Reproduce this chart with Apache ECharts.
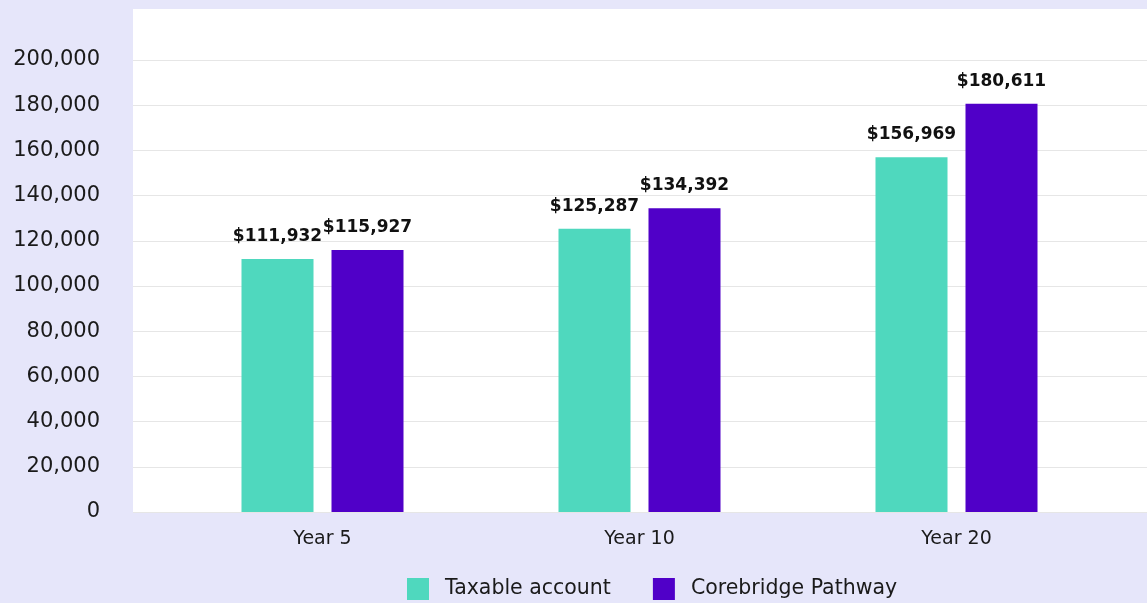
<!DOCTYPE html>
<html>
<head>
<meta charset="utf-8">
<script src="https://cdn.jsdelivr.net/npm/echarts@6/dist/echarts.min.js"></script>
<style>
  html, body { margin: 0; padding: 0; background: #e6e6fa; }
  #chart { width: 1147px; height: 603px; }
</style>
</head>
<body>
<div id="chart"></div>
<script>
// data
const categories = ['Year 5', 'Year 10', 'Year 20'];
const taxable = [111932, 125287, 156969];
const corebridge = [115927, 134392, 180611];
const seriesNames = ['Taxable account', 'Corebridge Pathway'];

const font = '"DejaVu Sans", sans-serif';
const money = p => '$' + p.value.toLocaleString('en-US');

const myChart = echarts.init(document.getElementById('chart'));
myChart.setOption({
    backgroundColor: '#e6e6fa',
    textStyle: { fontFamily: font },
    // white plot panel
    graphic: [{
        type: 'rect',
        z: -10,
        shape: { x: 133, y: 9, width: 1014, height: 503 },
        style: { fill: '#ffffff' }
    }],
    grid: [
        // full-width grid: gridlines + y labels
        { left: 133, right: 0, top: 60, bottom: 91 },
        // bars
        { left: 164, right: 32, top: 60, bottom: 91 }
    ],
    legend: {
        data: seriesNames,
        bottom: 3,
        left: 407,
        padding: 0,
        itemWidth: 22,
        itemHeight: 22,
        itemGap: 42,
        icon: 'rect',
        textStyle: { fontSize: 20.5, color: '#1a1a1a', fontFamily: font, padding: [0, 0, 0, 11] }
    },
    xAxis: [
        { gridIndex: 0, type: 'value', show: false },
        {
            gridIndex: 1,
            type: 'category',
            data: categories,
            axisLine: { show: false },
            axisTick: { show: false },
            axisLabel: { fontSize: 19, color: '#1a1a1a', margin: 18 }
        }
    ],
    yAxis: [
        {
            gridIndex: 0,
            type: 'value',
            min: 0,
            max: 200000,
            interval: 20000,
            axisLine: { show: false },
            axisTick: { show: false },
            splitLine: { lineStyle: { color: '#e6e6e6' } },
            axisLabel: {
                fontSize: 21,
                color: '#1a1a1a',
                margin: 33,
                formatter: v => v.toLocaleString('en-US')
            }
        },
        {
            gridIndex: 1,
            type: 'value',
            min: 0,
            max: 200000,
            interval: 20000,
            show: false,
            splitLine: { show: false }
        }
    ],
    series: [
        {
            name: seriesNames[0],
            type: 'bar',
            xAxisIndex: 1,
            yAxisIndex: 1,
            data: taxable,
            barWidth: 72,
            barGap: '25%',
            itemStyle: { color: '#4fd8be' },
            label: { show: true, position: 'top', distance: 14, formatter: money, fontSize: 17, fontWeight: 'bold', color: '#111' }
        },
        {
            name: seriesNames[1],
            type: 'bar',
            xAxisIndex: 1,
            yAxisIndex: 1,
            data: corebridge,
            barWidth: 72,
            itemStyle: { color: '#5000c8' },
            label: { show: true, position: 'top', distance: 14, formatter: money, fontSize: 17, fontWeight: 'bold', color: '#111' }
        }
    ]
});
</script>
</body>
</html>
